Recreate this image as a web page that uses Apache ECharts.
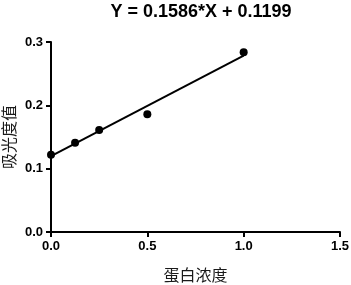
<!DOCTYPE html>
<html>
<head>
<meta charset="utf-8">
<script src="https://cdn.jsdelivr.net/npm/echarts@6/dist/echarts.min.js"></script>
<style>
html,body{margin:0;padding:0;background:#fff;}
#c{width:351px;height:285px;}
</style>
</head>
<body>
<div id="c"></div>
<script>
var titleText = 'Y = 0.1586*X + 0.1199';
var xName = '蛋白浓度';
var yName = '吸光度值';
var conc = [0, 0.125, 0.25, 0.5, 1.0];
var absorb = [0.122, 0.141, 0.161, 0.186, 0.284];
var fitX = [0, 1.0];
var fitY = [0.1199, 0.2785];
var xTicks = [0, 0.5, 1.0, 1.5];
var yTicks = [0, 0.1, 0.2, 0.3];

var chart = echarts.init(document.getElementById('c'), null, {renderer: 'canvas'});
var axisCommon = {
  type: 'value',
  nameLocation: 'middle',
  nameMoveOverlap: false,
  nameTextStyle: {fontFamily: 'Noto Sans CJK SC', fontSize: 16, color: '#1a1a1a'},
  axisLine: {show: true, onZero: false, lineStyle: {color: '#000', width: 2}},
  axisTick: {show: true, inside: false, length: 5, lineStyle: {color: '#000', width: 2}},
  axisLabel: {fontFamily: 'Liberation Sans, Arial, sans-serif', fontWeight: 'bold', fontSize: 13, color: '#000', margin: 8,
    formatter: function (v) { return v.toFixed(1); }},
  splitLine: {show: false}
};
chart.setOption({
  animation: false,
  backgroundColor: '#fff',
  title: {
    text: titleText, left: 196, top: -2, textAlign: 'center',
    textStyle: {fontFamily: 'Liberation Sans, Arial, sans-serif', fontWeight: 'bold', fontSize: 18, color: '#000'}
  },
  grid: {left: 51, top: 42, right: 11, bottom: 53, containLabel: false, outerBoundsMode: 'none'},
  xAxis: Object.assign({}, axisCommon, {
    name: xName, nameGap: 35,
    min: xTicks[0], max: xTicks[xTicks.length - 1], interval: 0.5
  }),
  yAxis: Object.assign({}, axisCommon, {
    name: yName, nameGap: 34,
    min: yTicks[0], max: yTicks[yTicks.length - 1], interval: 0.1
  }),
  series: [
    {
      type: 'line',
      data: fitX.map(function (x, i) { return [x, fitY[i]]; }),
      symbol: 'none',
      lineStyle: {color: '#000', width: 2},
      z: 2
    },
    {
      type: 'scatter',
      data: conc.map(function (x, i) { return [x, absorb[i]]; }),
      symbol: 'circle',
      symbolSize: 8,
      itemStyle: {color: '#000', opacity: 1},
      z: 3
    }
  ]
});
</script>
</body>
</html>
